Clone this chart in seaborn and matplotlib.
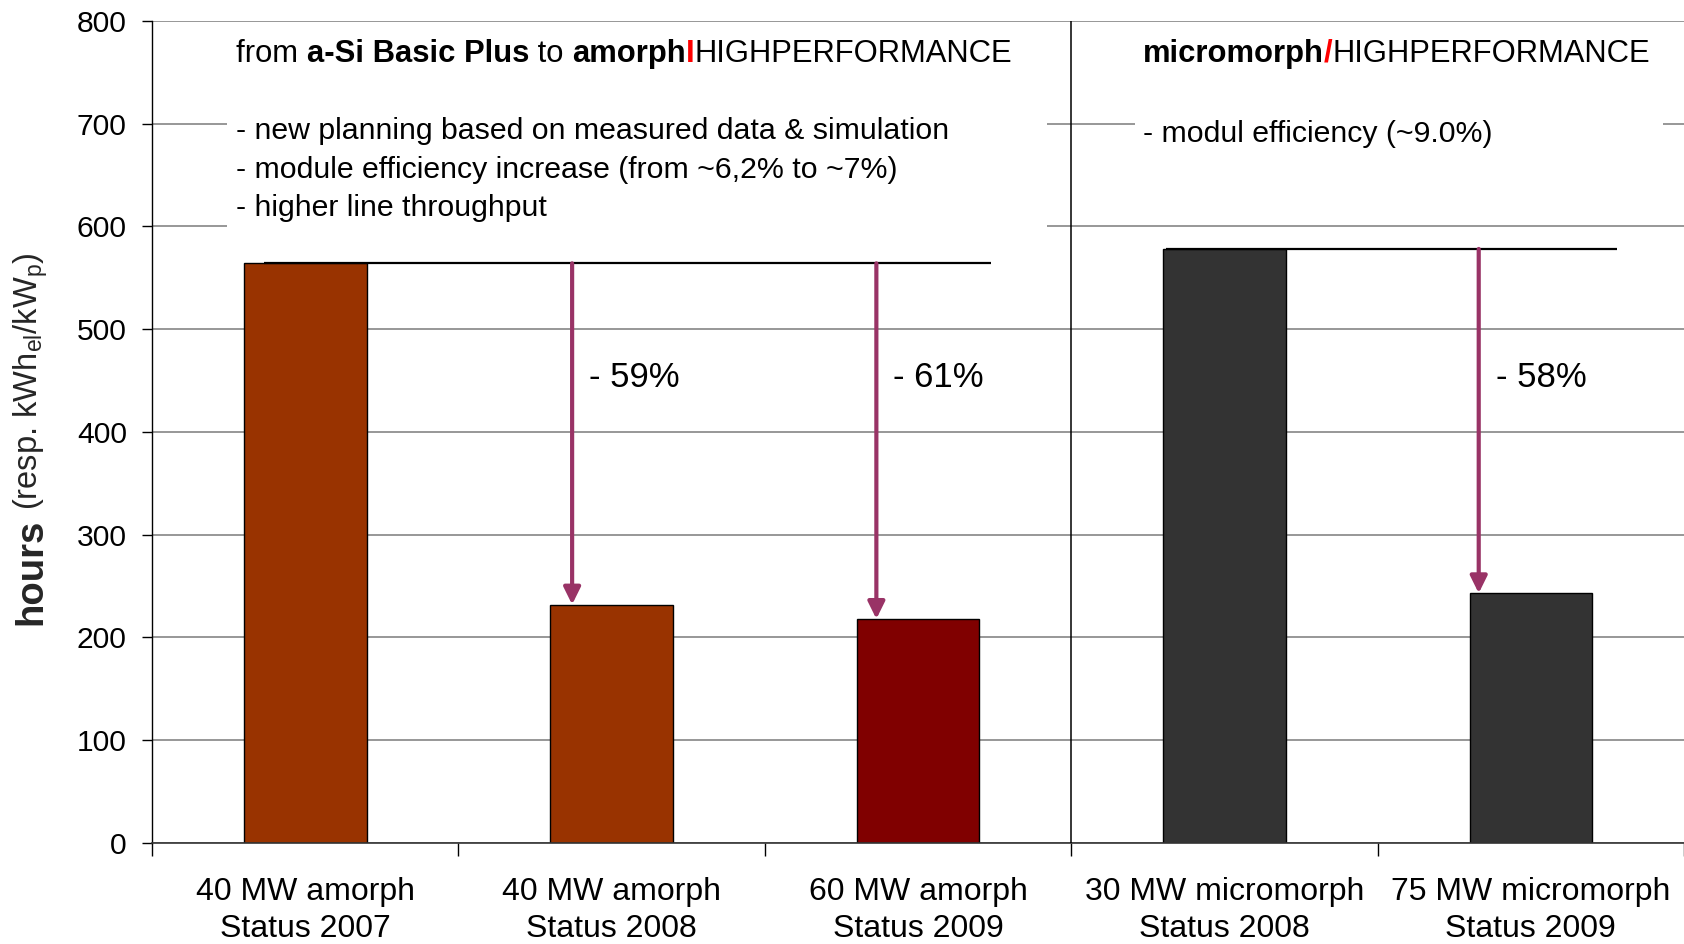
import matplotlib
matplotlib.use("Agg")
import matplotlib.pyplot as plt
import matplotlib.ticker as mticker
from matplotlib.patches import Rectangle
import seaborn as sns
import pandas as pd

# ---- data ----
categories = ["40 MW amorph\nStatus 2007", "40 MW amorph\nStatus 2008",
              "60 MW amorph\nStatus 2009", "30 MW micromorph\nStatus 2008",
              "75 MW micromorph\nStatus 2009"]
hours = [564, 232, 218, 578, 243]
bar_colors = ["#993300", "#993300", "#800000", "#333333", "#333333"]
reductions = ["- 59%", "- 61%", "- 58%"]
y_ticks = [0, 100, 200, 300, 400, 500, 600, 700, 800]

sns.set_theme(style="white")
plt.rcParams["font.family"] = ["Liberation Sans", "DejaVu Sans"]
plt.rcParams["mathtext.fontset"] = "custom"
plt.rcParams["mathtext.rm"] = "Liberation Sans"
plt.rcParams["mathtext.it"] = "Liberation Sans:italic"
plt.rcParams["mathtext.bf"] = "Liberation Sans:bold"

df = pd.DataFrame({"cat": categories, "hours": hours})

fig = plt.figure(figsize=(16.84, 9.44), dpi=100)
ax = fig.add_axes([0.0903, 0.107, 0.9097, 0.871])

sns.barplot(data=df, x="cat", y="hours", hue="cat", order=categories,
            hue_order=categories, palette=bar_colors, legend=False,
            width=0.4, edgecolor="black", linewidth=1.0, saturation=1,
            ax=ax, zorder=2)

ax.set_xlim(-0.5, 4.5)
ax.set_ylim(0, 800)
ax.set_yticks(y_ticks)
ax.set_xlabel("")
ax.set_ylabel("")

# gridlines
ax.set_axisbelow(True)
ax.yaxis.grid(True, color="#7a7a7a", linewidth=1.1)
ax.xaxis.grid(False)

for s in ["top", "right"]:
    ax.spines[s].set_visible(False)
ax.spines["left"].set_color("black")
ax.spines["left"].set_linewidth(1.0)
ax.spines["bottom"].set_color("#333333")
ax.spines["bottom"].set_linewidth(1.2)

# x ticks: boundaries as major ticks, labels at centers as minor
ax.xaxis.set_major_locator(mticker.FixedLocator([-0.5, 0.5, 1.5, 2.5, 3.5, 4.5]))
ax.xaxis.set_major_formatter(mticker.NullFormatter())
ax.xaxis.set_minor_locator(mticker.FixedLocator(range(len(categories))))
ax.xaxis.set_minor_formatter(mticker.FixedFormatter(categories))
ax.tick_params(axis="x", which="major", direction="out", length=9.5,
               width=1.0, color="black", bottom=True)
ax.tick_params(axis="x", which="minor", length=0, pad=24.5, labelsize=23,
               labelcolor="black", bottom=True)
for lbl in ax.xaxis.get_minorticklabels():
    lbl.set_linespacing(1.32)
ax.tick_params(axis="y", direction="out", length=7.2, width=1.0,
               color="black", left=True, pad=11, labelsize=21.6,
               labelcolor="black")

# white boxes covering gridlines behind annotation text
ax.add_patch(Rectangle((-0.255, 590), 2.676, 206, facecolor="white",
                       edgecolor="none", zorder=0.9))
ax.add_patch(Rectangle((2.708, 640), 1.725, 156, facecolor="white",
                       edgecolor="none", zorder=0.9))

# divider between amorph and micromorph
ax.axvline(2.5, ymin=0, ymax=1, color="black", linewidth=1.1, zorder=3)

# reference lines at starting level
ax.hlines(hours[0], -0.136, 2.239, color="black", linewidth=1.6, zorder=4)
ax.hlines(hours[3], 2.81, 4.28, color="black", linewidth=1.6, zorder=4)

# arrows
arrow_color = "#993366"
arrow_specs = [(0.871, hours[0], hours[1]), (1.864, hours[0], hours[2]),
               (3.83, hours[3], hours[4])]
for (xa, y0, y1), txt in zip(arrow_specs, reductions):
    ax.annotate("", xy=(xa, y1), xytext=(xa, y0),
                arrowprops=dict(arrowstyle="-|>,head_length=0.85,head_width=0.42",
                                color=arrow_color, lw=3.0,
                                shrinkA=0, shrinkB=0), zorder=5)
    ax.text(xa + 0.055, 453, txt, fontsize=25, ha="left", va="center",
            color="black", zorder=6)

# annotation text blocks
fs = 21.8
fs_title = 22.3


def chain(ax, x, y, pieces):
    prev = None
    for text, weight, color in pieces:
        if prev is None:
            prev = ax.text(x, y, text, fontsize=fs_title, fontweight=weight,
                           color=color, ha="left", va="center", zorder=6)
        else:
            prev = ax.annotate(text, xy=(1, 0), xycoords=prev,
                               fontsize=fs_title, fontweight=weight,
                               color=color, ha="left", va="bottom", zorder=6)
    return prev


chain(ax, -0.226, 768, [("from ", "normal", "black"),
                        ("a-Si Basic Plus", "bold", "black"),
                        (" to ", "normal", "black"),
                        ("amorph", "bold", "black"),
                        ("I", "bold", "#ff0000"),
                        ("HIGHPERFORMANCE", "normal", "black")])
bullets_left = ["- new planning based on measured data & simulation",
                "- module efficiency increase (from ~6,2% to ~7%)",
                "- higher line throughput"]
for yy, t in zip([693, 655, 618], bullets_left):
    ax.text(-0.226, yy, t, fontsize=fs, ha="left", va="center",
            color="black", zorder=6)

chain(ax, 2.735, 768, [("micromorph", "bold", "black"),
                       ("/", "bold", "#ff0000"),
                       ("HIGHPERFORMANCE", "normal", "black")])
ax.text(2.735, 690, "- modul efficiency (~9.0%)", fontsize=fs, ha="left",
        va="center", color="black", zorder=6)

# y label
t1 = fig.text(31 / 1684, 1 - 625 / 944, "hours", rotation=90, ha="center",
              va="bottom", fontsize=27.5, fontweight="bold")
ax.annotate(r"(resp. kWh$_{\mathrm{el}}$/kW$_{\mathrm{p}}$)", xy=(0.5, 1),
            xycoords=t1, xytext=(0, 6), textcoords="offset points",
            rotation=90, ha="center", va="bottom", fontsize=23.5,
            annotation_clip=False)

fig.savefig("out.png", dpi=100)
